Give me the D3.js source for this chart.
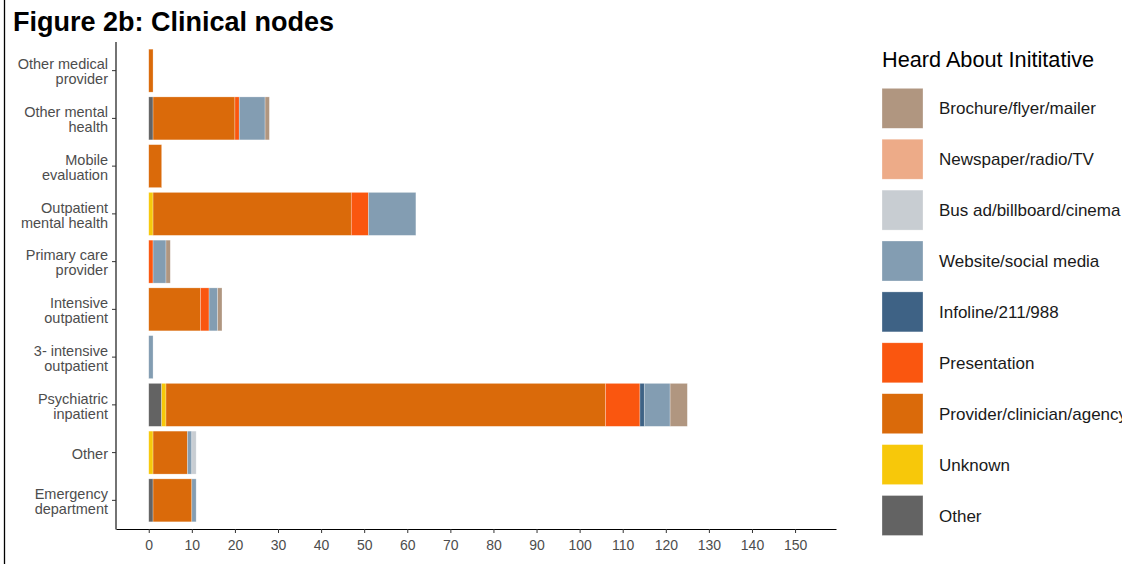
<!DOCTYPE html>
<html><head><meta charset="utf-8">
<script src="https://cdn.jsdelivr.net/npm/d3@7"></script>
<style>
html,body{margin:0;padding:0;background:#fff;overflow:hidden;}
svg{display:block;font-family:"Liberation Sans",Arial,sans-serif;}
</style></head>
<body><svg id="chart" width="1122" height="564"></svg>
<script>
// ---- data ----
const categories = ["Other medical provider","Other mental health","Mobile evaluation","Outpatient mental health","Primary care provider","Intensive outpatient","3- intensive outpatient","Psychiatric inpatient","Other","Emergency department"];
const categoryLines = [["Other medical","provider"],["Other mental","health"],["Mobile","evaluation"],["Outpatient","mental health"],["Primary care","provider"],["Intensive","outpatient"],["3- intensive","outpatient"],["Psychiatric","inpatient"],["Other"],["Emergency","department"]];
// stacked left to right
const seriesNames = ["Other","Unknown","Provider/clinician/agency","Presentation","Infoline/211/988","Website/social media","Bus ad/billboard/cinema","Newspaper/radio/TV","Brochure/flyer/mailer"];
const seriesColors = ["#636363","#F7C80A","#DA6A0A","#FA560F","#3E6285","#839DB2","#C8CDD2","#EDAB88","#B09680"];
const otherVals        = [0,1,0,0,0,0,0,3,0,1];
const unknownVals      = [0,0,0,1,0,0,0,1,1,0];
const providerVals     = [1,19,3,46,0,12,0,102,8,9];
const presentationVals = [0,1,0,4,1,2,0,8,0,0];
const infolineVals     = [0,0,0,0,0,0,0,1,0,0];
const websiteVals      = [0,6,0,11,3,2,1,6,1,1];
const busVals          = [0,0,0,0,0,0,0,0,1,0];
const newspaperVals    = [0,0,0,0,0,0,0,0,0,0];
const brochureVals     = [0,1,0,0,1,1,0,4,0,0];
const xTicks = [0,10,20,30,40,50,60,70,80,90,100,110,120,130,140,150];
const legendOrder = ["Brochure/flyer/mailer","Newspaper/radio/TV","Bus ad/billboard/cinema","Website/social media","Infoline/211/988","Presentation","Provider/clinician/agency","Unknown","Other"];
const titleText = "Figure 2b: Clinical nodes";
const legendTitle = "Heard About Inititative";

const allVals = [otherVals,unknownVals,providerVals,presentationVals,infolineVals,websiteVals,busVals,newspaperVals,brochureVals];
const rows = categories.map((c,i)=>{const r={cat:c}; seriesNames.forEach((s,j)=>r[s]=allVals[j][i]); return r;});

const svg = d3.select("#chart");
const color = d3.scaleOrdinal().domain(seriesNames).range(seriesColors);

// left border line
svg.append("line").attr("x1",4.5).attr("x2",4.5).attr("y1",0).attr("y2",564).attr("stroke","#000").attr("stroke-width",1.3);

// title
svg.append("text").attr("x",13).attr("y",31).attr("font-size",27).attr("font-weight","bold").attr("fill","#000").text(titleText);

const x = d3.scaleLinear().domain([-7.6,159.5]).range([116,836]);
// ggplot-like discrete scale: 0.6 band expansion each side
const step = (529-42)/(categories.length - 1 + 1.2);
const y = d3.scalePoint().domain(categories).range([42+0.6*step, 529-0.6*step]);
const barH = step*0.9;

const stack = d3.stack().keys(seriesNames)(rows);
const g = svg.append("g");
stack.forEach(layer=>{
  g.selectAll(null).data(layer.filter(d=>d[1]-d[0]>0)).enter().append("rect")
    .attr("x",d=>x(d[0])).attr("width",d=>x(d[1])-x(d[0]))
    .attr("y",d=>y(d.data.cat)-barH/2).attr("height",barH)
    .attr("fill",color(layer.key))
    .attr("stroke","#fff").attr("stroke-opacity",0.45).attr("stroke-width",0.6);
});

// x axis
const xAxis = svg.append("g").attr("transform","translate(0,529)")
  .call(d3.axisBottom(x).tickValues(xTicks).tickSize(4).tickPadding(7).tickSizeOuter(0));
xAxis.select(".domain").attr("stroke","#000").attr("stroke-width",1.1);
xAxis.selectAll(".tick line").attr("stroke","#333");
xAxis.selectAll(".tick text").attr("font-size",14).attr("fill","#4d4d4d").attr("font-family","Liberation Sans, Arial, sans-serif");

// y axis
svg.append("line").attr("x1",116).attr("x2",116).attr("y1",42).attr("y2",529.5).attr("stroke","#000").attr("stroke-width",1.1);
const yg = svg.append("g");
categories.forEach((c,i)=>{
  const cy = y(c);
  yg.append("line").attr("x1",112).attr("x2",116).attr("y1",cy).attr("y2",cy).attr("stroke","#333");
  const lines = categoryLines[i];
  const t = yg.append("text").attr("text-anchor","end").attr("font-size",14.5).attr("fill","#4d4d4d");
  if(lines.length===1){
    t.append("tspan").attr("x",108).attr("y",cy+6).text(lines[0]);
  } else {
    t.append("tspan").attr("x",108).attr("y",cy-1.3).text(lines[0]);
    t.append("tspan").attr("x",108).attr("y",cy+13.7).text(lines[1]);
  }
});

// legend
const lg = svg.append("g");
lg.append("text").attr("x",882).attr("y",66.5).attr("font-size",21.7).attr("fill","#000").text(legendTitle);
legendOrder.forEach((s,i)=>{
  const top = 88.3 + i*50.9;
  lg.append("rect").attr("x",882).attr("y",top).attr("width",41).attr("height",40)
    .attr("fill",color(s)).attr("stroke","#fff").attr("stroke-opacity",0.5).attr("stroke-width",0.6);
  lg.append("text").attr("x",939).attr("y",top+26).attr("font-size",17).attr("fill","#1a1a1a").text(s);
});
</script></body></html>
